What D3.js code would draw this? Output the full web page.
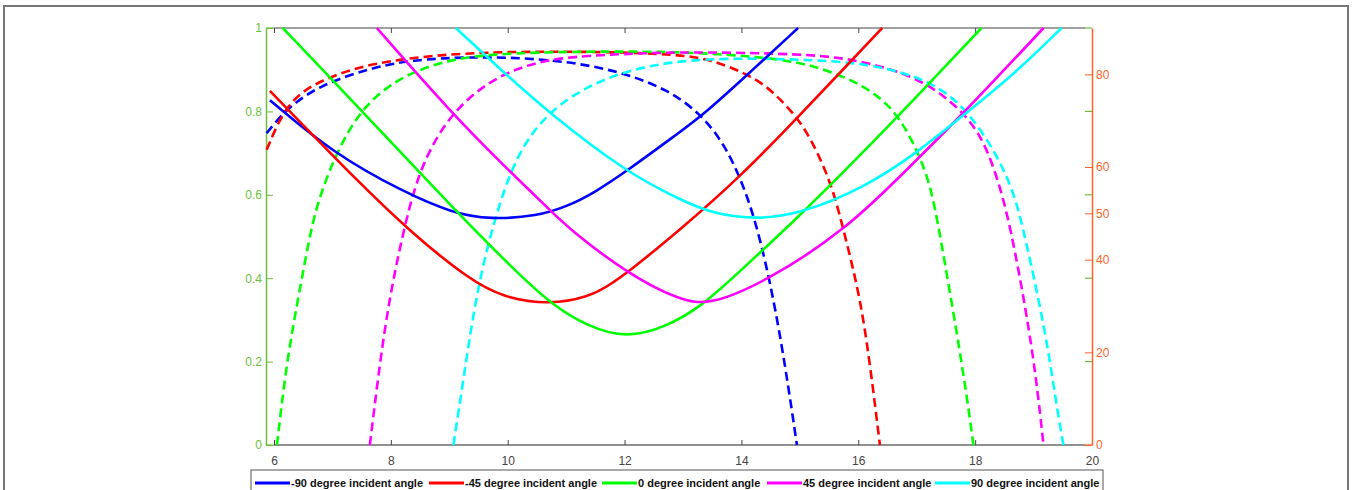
<!DOCTYPE html>
<html>
<head>
<meta charset="utf-8">
<script src="https://cdn.jsdelivr.net/npm/d3@7"></script>
<style>
  body { margin: 0; background: #fff; font-family: "Liberation Sans", Arial, sans-serif; }
  svg { display: block; }
</style>
</head>
<body>
<svg id="chart" width="1352" height="490"></svg>
<script>
// tick values
const xTicks = [6, 8, 10, 12, 14, 16, 18, 20];
const leftTicks = [0, 0.2, 0.4, 0.6, 0.8, 1];
const rightTicks = [0, 20, 40, 50, 60, 80];

const seriesNames = [
  "-90 degree incident angle",
  "-45 degree incident angle",
  "0 degree incident angle",
  "45 degree incident angle",
  "90 degree incident angle",
];
const seriesColors = ["#0000ff", "#ff0000", "#00ff00", "#ff00ff", "#00ffff"];

// solid curves, left axis (0..1)
const solidM90 = [[5.93,0.827],[7.01,0.700],[8.21,0.607],[9.06,0.556],[9.70,0.541],[10.50,0.548],[11.07,0.575],[11.50,0.607],[12.02,0.655],[12.95,0.751],[13.34,0.791],[14.15,0.894],[14.97,1.0]];
const solidM45 = [[5.93,0.849],[6.50,0.767],[7.36,0.643],[8.33,0.511],[9.35,0.396],[9.92,0.354],[10.72,0.336],[11.40,0.356],[11.70,0.380],[12.04,0.412],[12.95,0.516],[13.98,0.643],[15.00,0.791],[15.81,0.911],[16.41,1.0]];
const solid0 = [[6.15,1.0],[7.00,0.875],[8.00,0.727],[9.00,0.578],[10.00,0.435],[10.72,0.340],[11.35,0.285],[12.04,0.256],[12.70,0.283],[13.30,0.330],[14.00,0.420],[15.00,0.550],[16.00,0.690],[17.00,0.835],[18.11,1.0]];
const solidP45 = [[7.76,1.0],[9.01,0.80],[10.04,0.655],[10.72,0.564],[11.07,0.516],[12.04,0.412],[12.95,0.346],[13.46,0.336],[14.37,0.388],[15.80,0.516],[16.94,0.676],[17.80,0.795],[19.17,1.0]];
const solidP90 = [[9.11,1.0],[9.92,0.895],[10.72,0.795],[12.02,0.655],[12.95,0.588],[13.52,0.554],[14.26,0.541],[15.00,0.554],[16.09,0.616],[17.00,0.700],[17.80,0.791],[18.65,0.887],[19.48,1.0]];

// dashed curves, right axis (0..90)
const dashM90 = [[5.875,67.3],[6.22,72.7],[6.79,77.7],[7.64,81.3],[8.33,83.1],[9.35,83.8],[10.49,83.5],[11.63,81.7],[12.77,77.0],[13.52,69.1],[13.98,58.3],[14.32,45.3],[14.66,24.8],[14.95,0]];
const dashM45 = [[5.875,63.7],[6.22,74.1],[6.79,78.8],[7.64,82.4],[8.78,84.2],[9.92,84.9],[11.64,84.9],[12.95,84.3],[13.52,83.1],[14.26,79.2],[14.66,74.8],[15.06,69.1],[15.35,61.9],[15.58,54.7],[15.77,45.3],[16.03,32.0],[16.20,17.6],[16.37,0]];
const dash0 = [[6.05,0],[6.22,18.3],[6.45,34.2],[6.62,45.7],[6.76,52.9],[7.07,63.3],[7.53,73.4],[8.21,79.9],[9.07,83.5],[9.92,84.5],[11.07,84.9],[12.95,85.0],[14.66,83.5],[15.40,81.3],[16.09,77.7],[16.60,72.7],[16.94,65.5],[17.23,56.8],[17.40,45.3],[17.68,24.8],[17.86,10.4],[17.97,0]];
const dashP45 = [[7.64,0],[7.81,17.6],[7.98,32.0],[8.21,46.0],[8.50,60.4],[9.07,72.7],[9.92,80.6],[10.78,83.5],[11.63,84.2],[12.95,84.9],[14.66,84.5],[15.80,83.8],[16.94,79.9],[17.62,74.1],[18.08,67.6],[18.37,58.3],[18.60,47.5],[18.88,28.4],[19.05,14.0],[19.17,0]];
const dashP90 = [[9.07,0],[9.24,14.0],[9.41,28.4],[9.64,42.8],[10.04,59.7],[10.49,69.1],[11.07,75.5],[11.92,80.6],[12.95,83.1],[14.09,83.5],[15.23,83.1],[16.09,82.4],[16.94,79.9],[17.51,76.3],[17.97,70.5],[18.37,62.6],[18.66,54.7],[18.85,45.3],[19.20,24.8],[19.37,10.4],[19.51,0]];

const solidSeries = [solidM90, solidM45, solid0, solidP45, solidP90];
const dashSeries = [dashM90, dashM45, dash0, dashP45, dashP90];

const svg = d3.select("#chart");
const leftColor = "#6cbf3c";
const rightColor = "#ff632a";
const fontFamily = "Liberation Sans, Arial, sans-serif";
const plotTop = 28, plotBottom = 445, plotLeft = 274, plotRight = 1092;

const x = d3.scaleLinear().domain([6, 20]).range([plotLeft, plotRight]);
const yLeft = d3.scaleLinear().domain([0, 1]).range([plotBottom, plotTop]);
const yRight = d3.scaleLinear().domain([0, 90]).range([plotBottom, plotTop]);

// outer frame
svg.append("rect")
  .attr("x", 4).attr("y", 6)
  .attr("width", 1344).attr("height", 500)
  .attr("fill", "none").attr("stroke", "#777").attr("stroke-width", 2);

// box lines
svg.append("line").attr("x1", plotLeft).attr("x2", 1085).attr("y1", plotTop).attr("y2", plotTop)
  .attr("stroke", "#444").attr("stroke-width", 1.2);
svg.append("line").attr("x1", 266).attr("x2", plotLeft).attr("y1", plotTop).attr("y2", plotTop)
  .attr("stroke", leftColor).attr("stroke-width", 1.2);
svg.append("line").attr("x1", 1085).attr("x2", plotRight).attr("y1", plotTop).attr("y2", plotTop)
  .attr("stroke", leftColor).attr("stroke-width", 1.2);

// bottom x axis
const xAxis = svg.append("g")
  .attr("class", "axis")
  .attr("transform", `translate(0,${plotBottom})`)
  .call(d3.axisBottom(x).tickValues(xTicks).tickSize(-5).tickPadding(11).tickSizeOuter(0));
xAxis.select(".domain").attr("stroke", "#222").attr("d", `M${plotLeft},0H1085`);
xAxis.selectAll(".tick line").attr("stroke", "#444");
xAxis.selectAll(".tick text").attr("fill", "#444").style("font-size", "12px")
  .style("font-family", fontFamily);
svg.append("line").attr("x1", 266).attr("x2", plotLeft).attr("y1", plotBottom).attr("y2", plotBottom)
  .attr("stroke", leftColor).attr("stroke-width", 1.2);
svg.append("line").attr("x1", 1085).attr("x2", plotRight).attr("y1", plotBottom).attr("y2", plotBottom)
  .attr("stroke", rightColor).attr("stroke-width", 1.2);

// top x ticks
svg.append("g")
  .attr("transform", `translate(0,${plotTop})`)
  .call(d3.axisTop(x).tickValues(xTicks.filter((d) => d < 20)).tickSize(-5).tickFormat(""))
  .call((g) => g.select(".domain").remove())
  .selectAll(".tick line").attr("stroke", "#444");

// left axis
const leftAxis = svg.append("g")
  .attr("transform", "translate(266,0)")
  .call(d3.axisLeft(yLeft).tickValues(leftTicks).tickSize(-7).tickPadding(4).tickSizeOuter(0)
    .tickFormat((d) => d3.format("~g")(d)));
leftAxis.select(".domain").attr("stroke", leftColor).attr("stroke-width", 1.5);
leftAxis.selectAll(".tick line").attr("stroke", leftColor);
leftAxis.selectAll(".tick text").attr("fill", leftColor).style("font-size", "12px")
  .style("font-family", fontFamily);

// mirrored left ticks on right side
svg.append("g")
  .selectAll("line")
  .data(leftTicks.filter((d) => d > 0 && d < 1))
  .join("line")
  .attr("x1", 1085).attr("x2", plotRight)
  .attr("y1", (d) => yLeft(d)).attr("y2", (d) => yLeft(d))
  .attr("stroke", leftColor).attr("stroke-width", 1.2);

// right axis
const rightAxis = svg.append("g")
  .attr("transform", `translate(${plotRight},0)`)
  .call(d3.axisRight(yRight).tickValues(rightTicks).tickSize(-7).tickPadding(4).tickSizeOuter(0));
rightAxis.select(".domain").attr("stroke", rightColor).attr("stroke-width", 1.5);
rightAxis.selectAll(".tick line").attr("stroke", rightColor);
rightAxis.selectAll(".tick text").attr("fill", rightColor).style("font-size", "12px")
  .style("font-family", fontFamily);

// curves (B-spline smoothing over the read-off points)
const lineLeft = d3.line()
  .x((d) => x(d[0]))
  .y((d) => yLeft(d[1]))
  .curve(d3.curveBasis);
const lineRight = d3.line()
  .x((d) => x(d[0]))
  .y((d) => yRight(d[1]))
  .curve(d3.curveBasis);

const curves = svg.append("g");

curves.selectAll(".dash")
  .data(dashSeries)
  .join("path")
  .attr("class", "dash")
  .attr("d", lineRight)
  .attr("fill", "none")
  .attr("stroke", (d, i) => seriesColors[i])
  .attr("stroke-width", 2.6)
  .attr("stroke-dasharray", "9,5");

curves.selectAll(".solid")
  .data(solidSeries)
  .join("path")
  .attr("class", "solid")
  .attr("d", lineLeft)
  .attr("fill", "none")
  .attr("stroke", (d, i) => seriesColors[i])
  .attr("stroke-width", 2.6);

// legend
const legendX = [255, 429, 602, 767, 935];
const legend = svg.append("g");
legend.append("rect")
  .attr("x", 251).attr("y", 470)
  .attr("width", 852).attr("height", 30)
  .attr("fill", "#fff").attr("stroke", "#555").attr("stroke-width", 1);

const items = legend.selectAll(".item")
  .data(seriesNames)
  .join("g")
  .attr("class", "item")
  .attr("transform", (d, i) => `translate(${legendX[i]},483)`);
items.append("line")
  .attr("x1", 0).attr("x2", 35)
  .attr("stroke", (d, i) => seriesColors[i])
  .attr("stroke-width", 3);
items.append("text")
  .attr("x", 36).attr("dy", "0.35em")
  .attr("fill", "#111")
  .style("font-size", "11px")
  .style("font-weight", "bold")
  .style("font-family", fontFamily)
  .text((d) => d);
</script>
</body>
</html>
